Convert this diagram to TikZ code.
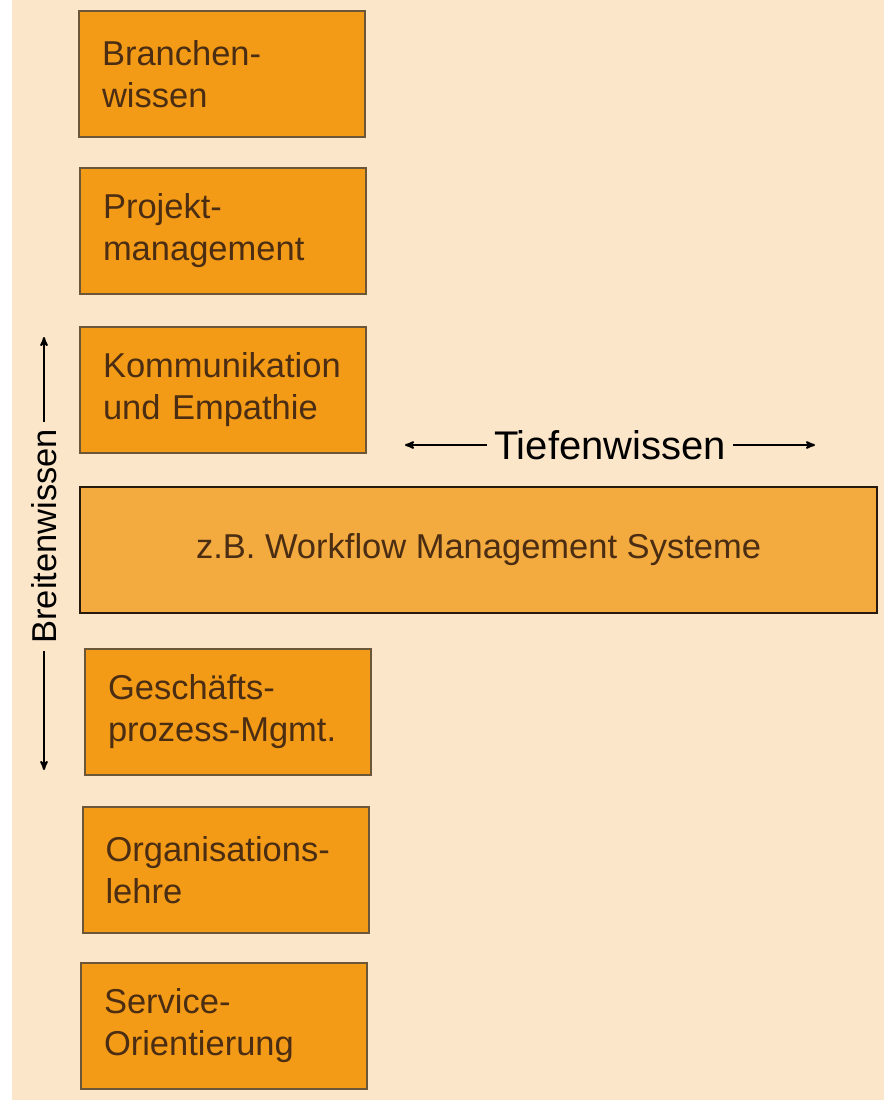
\documentclass[tikz,border=0pt]{standalone}
\usepackage{xcolor}
\usepackage{fontspec}
\setmainfont{Liberation Sans}
\usepackage{tikz}
\usetikzlibrary{arrows}

\definecolor{bgpeach}{HTML}{FCE6CA}
\definecolor{boxorange}{HTML}{F39B17}
\definecolor{bigorange}{HTML}{F3AA3E}
\definecolor{boxline}{HTML}{6B5638}
\definecolor{txtbrown}{HTML}{4A2D12}

\begin{document}
\begin{tikzpicture}[x=1pt,y=1pt,>=stealth',line width=2pt]
	\tikzstyle{every node} = [font=\fontsize{34.5}{42}\selectfont]
	\tikzstyle{box} = [draw=boxline,fill=boxorange,text=txtbrown,minimum width=286pt,minimum height=126pt,text width=240pt,inner xsep=23pt,align=left]
	\tikzstyle{bigbox} = [draw=black!80!brown,fill=bigorange,text=txtbrown,minimum width=797pt,minimum height=126pt,align=center]
	\tikzstyle{axislabel} = [fill=bgpeach,text=black,inner xsep=7pt,inner ysep=2pt]
	% background
	\fill[white] (0,0) rectangle (884,-1100);
	\fill[bgpeach] (12,0) rectangle (884,-1100);
	\useasboundingbox (0,0) rectangle (884,-1100);
	% boxes
	\node[box]		(bw)	at (222,-74)	{Branchen-\\wissen};
	\node[box]		(pm)	at (223,-230.5)	{Projekt-\\management};
	\node[box]		(ke)	at (223,-389.5)	{Kommunikation\\und Empathie};
	\node[bigbox]	(wms)	at (478.5,-550)	{z.B. Workflow Management Systeme};
	\node[box]		(gp)	at (228,-712)	{Gesch\"afts-\\prozess-Mgmt.};
	\node[box]		(ol)	at (225.5,-870)	{Organisations-\\lehre};
	\node[box]		(so)	at (224,-1026)	{Service-\\Orientierung};
	% axes
	\coordinate (btop) at (44,-337);
	\coordinate (bbot) at (44,-770);
	\coordinate (tleft) at (405,-445);
	\coordinate (tright) at (815,-445);
	\draw[<->] (btop) -- node[axislabel,pos=0.46,rotate=90] (brw) {Breitenwissen} (bbot);
	\draw[<->] (tleft) -- node[axislabel,font=\fontsize{40}{44}\selectfont] (tfw) {Tiefenwissen} (tright);
\end{tikzpicture}
\end{document}
